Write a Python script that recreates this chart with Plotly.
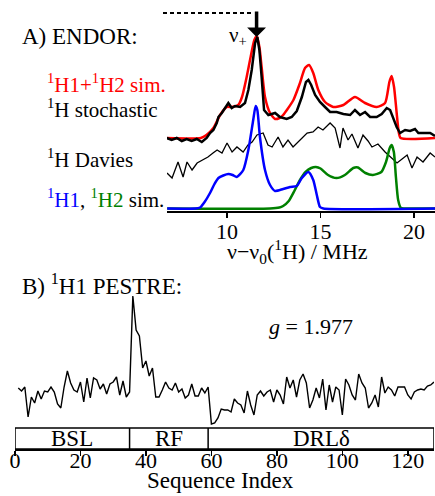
import plotly.graph_objects as go

W, H = 435, 496
FONT = "Liberation Serif"

# ---------------- Panel A: ENDOR (x in MHz, heights above each trace's own baseline) ----------
h1_x = [6.8, 8.3, 8.56, 8.8, 9.09, 9.3, 9.54, 9.8, 10.07, 10.3, 10.52, 10.87, 11.14, 11.4, 11.53,
        11.62, 11.76, 12.03, 12.3, 12.57, 13.0, 13.37, 13.73, 14.0, 14.35, 14.61, 14.8, 14.97, 15.15, 21.12]
h1_y = [0, 0, 1, 6.5, 15.5, 23.5, 30.5, 33, 34.5, 33.5, 31.5, 38.5, 58.5, 88.5, 102.5,
        98.5, 71.5, 38.5, 23.5, 17.5, 19.5, 21.5, 22.5, 30.5, 36.5, 28.5, 13.5, 1.5, 0, 0]

h2_x = [6.8, 12.3, 12.8, 13.0, 13.3, 13.6, 13.9, 14.2, 14.5, 14.75, 15.0, 15.4, 15.85, 16.3, 16.75,
        17.0, 17.4, 17.8, 18.25, 18.5, 18.7, 18.8, 18.92, 19.03, 19.15, 19.3, 19.5, 21.12]
h2_y = [0, 0, 1, 2.5, 7.5, 17.5, 28.5, 36.5, 40.5, 41.5, 40, 33.5, 30.5, 33.5, 40.5,
        41, 35.5, 33.5, 36.5, 46.5, 60.5, 63.5, 56.5, 31.5, 8.5, 0.5, 0, 0]

sum_x = [6.8, 8.6, 8.9, 9.27, 9.63, 9.98, 10.25, 10.6, 10.8, 11.05, 11.23, 11.46, 11.59, 11.73, 11.85,
         12.03, 12.3, 12.57, 12.8, 13.0, 13.2, 13.55, 13.9, 14.17, 14.39, 14.61, 14.88, 15.24, 15.68,
         16.22, 16.84, 17.38, 18.0, 18.45, 18.68, 18.8, 18.93, 19.07, 19.18, 19.28, 21.12]
sum_y = [0, 0, 3, 10, 23, 31, 31, 33, 41, 61, 78, 98, 102, 91, 71,
         41, 25, 19, 20, 23, 28, 38, 55, 70, 73, 65, 48, 36, 31,
         33, 41, 35, 31, 35, 56, 62, 51, 25, 6, 0, 0]

sto_x = [6.78, 7.04, 7.31, 7.58, 7.84, 8.11, 8.38, 8.65, 8.91, 9.09,
         9.27, 9.45, 9.54, 9.72, 10.07, 10.25, 10.43, 10.7, 10.96, 11.14,
         11.32, 11.5, 11.62, 11.73, 11.85, 11.98, 12.21, 12.57, 12.83, 13.19,
         13.46, 13.73, 14.0, 14.22, 14.35, 14.5, 14.71, 14.97, 15.24, 15.51,
         15.86, 16.22, 16.58, 16.84, 17.11, 17.38, 17.65, 18.0, 18.27, 18.54,
         18.72, 18.9, 19.07, 19.25, 19.52, 19.79, 20.05, 20.23, 20.5, 20.86, 21.12]
sto_y = [0, -2, 0, -3, -1, -3, -1, -4, 0, 5,
         8, 15, 21, 25, 35, 30, 32, 31, 35, 48,
         68, 95, 101, 88, 61, 28, 23, 25, 21, 19,
         21, 27, 41, 56, 58, 53, 43, 36, 31, 26,
         26, 24, 23, 28, 23, 26, 21, 21, 24, 30,
         28, 20, 11, 5, 8, 7, 9, 5, 5, 5, 2]

dav_x = [6.79, 7.06, 7.38, 7.65, 7.86, 8.13, 8.4, 8.72, 8.98, 9.25, 9.47, 9.73, 10.0, 10.27, 10.53,
         10.86, 11.12, 11.34, 11.6, 11.93, 12.19, 12.41, 12.73, 12.99, 13.26, 13.53, 13.9, 14.28,
         14.6, 14.87, 15.13, 15.51, 15.78, 16.04, 16.2, 16.47, 16.68, 17.0, 17.27, 17.54, 17.75,
         18.07, 18.45, 18.72, 19.09, 19.36, 19.63, 19.89, 20.16, 20.48, 20.86, 21.12]
dav_y = [2, -3, 13, -2, 13, 5, 12, 15, 18, 22, 25, 22, 32, 23, 28,
         23, 30, 33, 40, 42, 30, 28, 38, 28, 35, 28, 35, 42,
         43, 48, 45, 52, 47, 27, 47, 35, 41, 27, 40, 34, 28,
         31, 23, 18, 12, 16, 20, 7, 18, 13, 22, 18]

endor_ticks = [10, 15, 20]

# ---------------- Panel B: PESTRE ----------------
seq_index = list(range(1, 129))
pestre = [42, 39, 43, 13, 33, 27, 39, 31, 39, 38, 43, 38, 26, 22, 43, 59, 47, 40, 38, 48,
          28, 52, 32, 52, 50, 41, 46, 36, 46, 48, 53, 35, 49, 33, 38, 134, 100, 94, 62, 69,
          54, 62, 33, 33, 40, 48, 42, 40, 47, 38, 41, 32, 35, 46, 34, 34, 42, 37, 43, 6,
          7, 12, 21, 20, 20, 18, 31, 27, 25, 17, 39, 25, 15, 35, 39, 34, 38, 40, 28, 40,
          35, 26, 53, 42, 50, 33, 50, 56, 47, 22, 30, 42, 32, 51, 20, 45, 28, 43, 40, 15,
          51, 45, 35, 30, 56, 47, 42, 22, 27, 35, 23, 53, 37, 43, 40, 34, 43, 43, 43, 35,
          31, 38, 40, 41, 40, 44, 45, 48]
seq_ticks = [0, 20, 40, 60, 80, 100, 120]
segments = ["BSL", "RF", "DRLδ"]
segment_edges = [0, 35, 59, 128]

# vertical offsets of the stacked spectra (layout only)
OFF_SIM, OFF_TOP, OFF_DAV = 2.5, 73, 36


def px(x):
    return x / W


def py(y):
    return 1 - y / H


def shift(vals, off):
    return [v + off for v in vals]


fig = go.Figure()
fig.add_trace(go.Scatter(x=dav_x, y=shift(dav_y, OFF_DAV), mode="lines",
                         line=dict(color="black", width=1.3), xaxis="x", yaxis="y"))
fig.add_trace(go.Scatter(x=sum_x, y=shift(sum_y, OFF_TOP), mode="lines",
                         line=dict(color="#ff0000", width=2.5, shape="spline", smoothing=0.6),
                         xaxis="x", yaxis="y"))
fig.add_trace(go.Scatter(x=sto_x, y=shift(sto_y, OFF_TOP), mode="lines",
                         line=dict(color="black", width=2.5), xaxis="x", yaxis="y"))
fig.add_trace(go.Scatter(x=h2_x, y=shift(h2_y, OFF_SIM), mode="lines",
                         line=dict(color="#008000", width=2.5, shape="spline", smoothing=0.6),
                         xaxis="x", yaxis="y"))
fig.add_trace(go.Scatter(x=h1_x, y=shift(h1_y, OFF_SIM), mode="lines",
                         line=dict(color="#0000ff", width=2.5, shape="spline", smoothing=0.6),
                         xaxis="x", yaxis="y"))
fig.add_trace(go.Scatter(x=seq_index, y=pestre, mode="lines",
                         line=dict(color="black", width=1.4), xaxis="x2", yaxis="y2"))

axis_common = dict(showline=True, linecolor="black", linewidth=2, ticks="outside",
                   tickcolor="black", tickwidth=1.5, showgrid=False, zeroline=False,
                   automargin=False,
                   tickfont=dict(family=FONT, size=22, color="black"))

fig.update_layout(
    width=W, height=H, margin=dict(l=0, r=0, t=0, b=0, autoexpand=False),
    paper_bgcolor="white", plot_bgcolor="white", showlegend=False,
    xaxis=dict(domain=[px(167), 1], range=[6.79, 21.12], anchor="y", tickvals=endor_ticks,
               ticklen=5, ticklabelstandoff=-5, **axis_common),
    yaxis=dict(domain=[py(211), 1], range=[0, 211], visible=False),
    xaxis2=dict(domain=[px(15), px(434)], range=[0, 128], anchor="y2", tickvals=seq_ticks,
                ticklen=5, ticklabelstandoff=-14, **axis_common),
    yaxis2=dict(domain=[py(449), py(290)], range=[-19, 140], visible=False),
)

shapes = []
# dashed line and box for sequence segments
shapes.append(dict(type="line", xref="paper", yref="paper", x0=px(163), x1=px(253), y0=py(13), y1=py(13),
                   line=dict(color="black", width=2, dash="4px,3px")))
shapes.append(dict(type="rect", xref="x2", yref="paper", x0=segment_edges[0], x1=segment_edges[-1],
                   y0=py(449), y1=py(428), line=dict(color="black", width=1.5)))
for e in segment_edges[1:-1]:
    shapes.append(dict(type="line", xref="x2", yref="paper", x0=e, x1=e, y0=py(449), y1=py(428),
                       line=dict(color="black", width=1.5)))
fig.update_layout(shapes=shapes)


def label(text, x, y, size=21, color="black", xanchor="left", xref="paper", **kw):
    fig.add_annotation(text=text, x=x, y=y, xref=xref, yref="paper", showarrow=False,
                       xanchor=xanchor, yanchor="middle",
                       font=dict(family=FONT, size=size, color=color), **kw)


label("A) ENDOR:", px(20), py(37), size=23)
label("B) <sup>1</sup>H1 PESTRE:", px(20), py(284), size=23)
label("<span style='color:#ff0000'><sup>1</sup>H1+<sup>1</sup>H2 sim.</span>", px(45), py(84))
label("<sup>1</sup>H stochastic", px(45), py(108))
label("<sup>1</sup>H Davies", px(45), py(158))
label("<span style='color:#0000ff'><sup>1</sup>H1</span>, "
      "<span style='color:#008000'><sup>1</sup>H2</span> sim.", px(45), py(198))
label("ν<sub>+</sub>", px(238), py(36), size=21, xanchor="center")
label("ν−ν<sub>0</sub>(<sup>1</sup>H) / MHz", px(297), py(251), size=22, xanchor="center")
label("<i>g</i> = 1.977", px(267), py(326), size=22)
label("Sequence Index", px(220), py(480), size=23, xanchor="center")
for i, name in enumerate(segments):
    label(name, (segment_edges[i] + segment_edges[i + 1]) / 2, py(438), size=23,
          xanchor="center", xref="x2")

# arrow marking nu+
fig.add_annotation(x=11.58, xref="x", y=py(37), yref="paper", ax=0, ay=-27, text="",
                   showarrow=True, arrowhead=1, arrowsize=0.9, arrowwidth=3.5, arrowcolor="black")

fig.write_html("out.html", config={"displayModeBar": False, "staticPlot": True},
               post_script="document.body.style.margin='0px';document.body.style.overflow='hidden';")
